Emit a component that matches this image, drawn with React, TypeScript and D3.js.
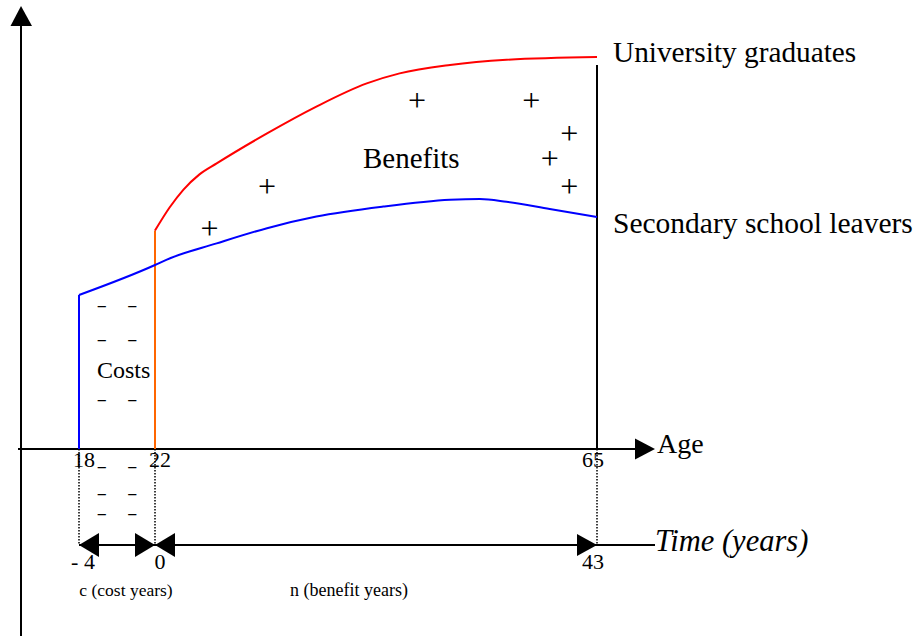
import React from "react";
import * as d3 from "d3";

// Age axis (piecewise linear: cost years stretched)
const ageTicks = [18, 22, 65];
const timeTicks = [-4, 0, 43];
const timeTickLabels = ["- 4", "0", "43"];

// Secondary school leavers earnings profile (age, relative earnings)
const secondaryAges = [18, 22, 23.1, 28.0, 32.9, 37.7, 44.2, 50.7, 53.6, 56.2, 60.4, 65];
const secondaryEarnings = [38.5, 46.0, 47.3, 51.4, 55.2, 58.1, 60.6, 62.3, 62.5, 61.8, 60.0, 58.0];

// University graduates earnings profile
const graduateAges = [22, 23.4, 24.75, 26.3, 28.0, 32.9, 37.7, 42.6, 45.8, 50.7, 56.2, 65];
const graduateEarnings = [54.6, 60.3, 64.8, 68.6, 71.4, 78.9, 85.6, 91.4, 93.9, 96.0, 97.3, 98.0];

// Plus signs in the benefit area (age, earnings)
const plusAges = [27.3, 47.5, 58.6, 62.3, 60.4, 62.3, 32.9];
const plusEarnings = [54.7, 86.75, 86.75, 78.5, 72.25, 65.25, 65.25];

// Minus signs in the cost area (age, earnings)
const minusAges = [19.2, 20.8];
const minusEarnings = [35.5, 27, 12.1, -4.75, -11.5, -16.5];

const FONT = "'Liberation Serif', 'Times New Roman', serif";

export default function App() {
  const W = 924;
  const H = 641;
  const x = d3.scaleLinear().domain([18, 22, 65]).range([79, 155, 597]);
  const y = d3.scaleLinear().domain([0, 100]).range([449, 49]);
  const tx = (t: number) => x(t + 22);
  const axisY = y(0);
  const timeY = 545;
  const yAxisX = 21;

  const line = d3
    .line<[number, number]>()
    .x((d) => x(d[0]))
    .y((d) => y(d[1]))
    .curve(d3.curveMonotoneX);

  const secPts = secondaryAges.map((a, i) => [a, secondaryEarnings[i]] as [number, number]);
  const gradPts = graduateAges.map((a, i) => [a, graduateEarnings[i]] as [number, number]);

  const arrowRight = (tipX: number, cy: number, len: number, half: number) =>
    `M${tipX},${cy} L${tipX - len},${cy - half} L${tipX - len},${cy + half} Z`;
  const arrowLeft = (tipX: number, cy: number, len: number, half: number) =>
    `M${tipX},${cy} L${tipX + len},${cy - half} L${tipX + len},${cy + half} Z`;

  return (
    <svg
      width={W}
      height={H}
      style={{ position: "absolute", left: 0, top: 0, background: "#fff" }}
      fontFamily={FONT}
    >
      <rect x={0} y={0} width={W} height={H} fill="#fff" />
      {/* Y axis */}
      <line x1={yAxisX} y1={20} x2={yAxisX} y2={636} stroke="#000" strokeWidth={2} />
      <path d={`M${yAxisX},6 L${yAxisX - 10.5},26 L${yAxisX + 11},26 Z`} fill="#000" />

      {/* X axis (Age) */}
      <line x1={18} y1={axisY} x2={640} y2={axisY} stroke="#000" strokeWidth={2} />
      <path d={arrowRight(655, axisY, 20, 10.5)} fill="#000" />
      <text x={657} y={453} fontSize={28}>Age</text>

      {/* Dotted guides */}
      {ageTicks.map((a) => (
        <line
          key={"dot" + a}
          x1={x(a)}
          y1={axisY}
          x2={x(a)}
          y2={timeY}
          stroke="#000"
          strokeWidth={1.5}
          strokeDasharray="1.5,1.5"
        />
      ))}

      {/* Retirement line */}
      <line x1={x(65)} y1={65} x2={x(65)} y2={axisY} stroke="#000" strokeWidth={2} />

      {/* Vertical starts */}
      <line x1={x(18)} y1={axisY} x2={x(18)} y2={y(secondaryEarnings[0])} stroke="#0000ff" strokeWidth={2} />
      <line x1={x(22)} y1={axisY} x2={x(22)} y2={y(graduateEarnings[0])} stroke="#ff6600" strokeWidth={2} />

      {/* Earnings curves */}
      <path d={line(secPts) || ""} fill="none" stroke="#0000ff" strokeWidth={2} />
      <path d={line(gradPts) || ""} fill="none" stroke="#ff0000" strokeWidth={2} />

      {/* Age tick labels */}
      {ageTicks.map((a, i) => (
        <text
          key={"at" + a}
          x={x(a) + (i === 2 ? -4 : 5)}
          y={467}
          fontSize={22}
          textAnchor="middle"
        >
          {a}
        </text>
      ))}

      {/* Time axis */}
      <line x1={tx(-4)} y1={timeY} x2={655} y2={timeY} stroke="#000" strokeWidth={2} />
      <path d={arrowLeft(tx(-4), timeY, 20, 12)} fill="#000" />
      <path d={arrowRight(tx(0), timeY, 20, 12)} fill="#000" />
      <path d={arrowLeft(tx(0), timeY, 20, 12)} fill="#000" />
      <path d={arrowRight(tx(43), timeY, 20, 11)} fill="#000" />
      <text x={655} y={551} fontSize={30.5} fontStyle="italic">Time (years)</text>
      {timeTicks.map((t, i) => (
        <text
          key={"tt" + t}
          x={tx(t) + (i === 0 ? 4 : i === 1 ? 5 : -4)}
          y={569}
          fontSize={22}
          textAnchor="middle"
        >
          {timeTickLabels[i]}
        </text>
      ))}
      <text x={(tx(-4) + tx(0)) / 2 + 9} y={596} fontSize={17.5} textAnchor="middle">
        c (cost years)
      </text>
      <text x={349} y={596} fontSize={18} textAnchor="middle">
        n (benefit years)
      </text>

      {/* Series labels */}
      <text x={613} y={62} fontSize={29.3}>University graduates</text>
      <text x={613} y={233} fontSize={29.5}>Secondary school leavers</text>

      {/* Area labels */}
      <text x={363} y={168} fontSize={29}>Benefits</text>
      <text x={97} y={378} fontSize={24}>Costs</text>

      {/* Plus signs */}
      {plusAges.map((a, i) => (
        <text key={"p" + i} x={x(a)} y={y(plusEarnings[i]) + 9} fontSize={32} textAnchor="middle">
          +
        </text>
      ))}

      {/* Minus signs */}
      {minusEarnings.map((e, j) =>
        minusAges.map((a, i) => (
          <text
            key={"m" + j + "-" + i}
            x={x(a)}
            y={y(e) + 4}
            fontSize={16}
            fontWeight="bold"
            textAnchor="middle"
          >
            –
          </text>
        ))
      )}
    </svg>
  );
}
